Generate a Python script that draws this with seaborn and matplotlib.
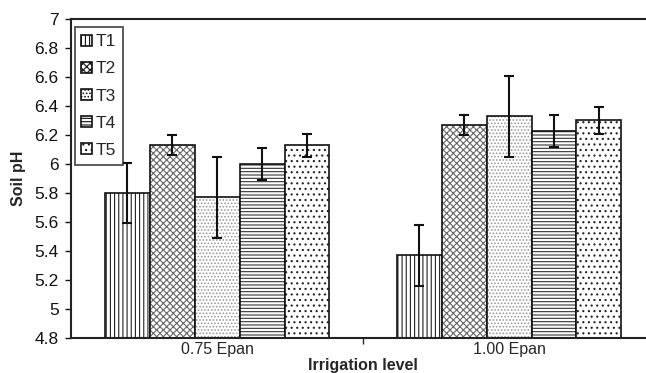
import seaborn as sns
import matplotlib.pyplot as plt
import pandas as pd
from matplotlib.ticker import FixedLocator, FormatStrFormatter

levels = ['0.75 Epan', '1.00 Epan']
treatments = ['T1', 'T2', 'T3', 'T4', 'T5']
ph_075 = [5.80, 6.13, 5.77, 6.00, 6.13]
ph_100 = [5.37, 6.27, 6.33, 6.23, 6.30]
err_075 = [0.21, 0.07, 0.28, 0.11, 0.08]
err_100 = [0.21, 0.07, 0.28, 0.11, 0.09]

df = pd.DataFrame({
    'level': [levels[0]] * 5 + [levels[1]] * 5,
    'trt': treatments * 2,
    'ph': ph_075 + ph_100,
})
errs = {t: [err_075[i], err_100[i]] for i, t in enumerate(treatments)}

sns.set_style('white')
plt.rcParams['font.family'] = ['Liberation Sans', 'DejaVu Sans']
plt.rcParams['hatch.linewidth'] = 0.8

fig = plt.figure(figsize=(6.46, 3.73), dpi=100)
ax = fig.add_axes([0.110, 0.094, 0.904, 0.855])

sns.barplot(data=df, x='level', y='ph', hue='trt', hue_order=treatments,
            order=levels, width=0.77, color='white', edgecolor='#111111',
            linewidth=1.2, errorbar=None, ax=ax, saturation=1)

# wavy pattern of T2 approximated by a dense grey cross hatch
hatches = ['||||', 'xxxxx', '.....', '-----', '...']
hatch_cols = ['#222222', '#666666', '#999999', '#333333', '#222222']
for cont, h, hc, t in zip(ax.containers, hatches, hatch_cols, treatments):
    xs, ys = [], []
    for bar in cont:
        bar.set_facecolor('white')
        bar.set_hatch(h)
        bar._hatch_color = plt.matplotlib.colors.to_rgba(hc)
        xs.append(bar.get_x() + bar.get_width() / 2)
        ys.append(bar.get_height())
    ax.errorbar(xs, ys, yerr=errs[t], fmt='none', ecolor='#111111',
                elinewidth=1.5, capsize=3.5, capthick=1.5, zorder=5)

ax.set_ylim(4.8, 7)
ax.set_xlim(-0.5, 1.5)
ax.yaxis.set_major_locator(FixedLocator([4.8 + 0.2 * i for i in range(12)]))
ax.yaxis.set_major_formatter(FormatStrFormatter('%g'))
ax.tick_params(axis='y', left=True, length=4, width=1, labelsize=12.5,
               pad=5, colors='#111111')
ax.tick_params(axis='x', bottom=False, length=0, labelsize=11.5, pad=3)
ax.xaxis.set_minor_locator(FixedLocator([0.5]))
ax.tick_params(axis='x', which='minor', bottom=True, length=4, width=1)

for s in ['left', 'bottom', 'top']:
    ax.spines[s].set_color('#222222')
    ax.spines[s].set_linewidth(1.5)
ax.spines['right'].set_visible(False)

ax.set_ylabel('Soil pH', fontsize=11.5, fontweight='bold', labelpad=6)
ax.set_xlabel('Irrigation level', fontsize=11.5, fontweight='bold')
ax.xaxis.set_label_coords(0.5, -0.062)

leg = ax.legend(loc='upper left', bbox_to_anchor=(0.0, 0.985), frameon=True,
                fancybox=False, edgecolor='#111111', fontsize=12.5,
                handlelength=0.6, handleheight=0.6, handletextpad=0.2,
                labelspacing=0.7, borderpad=0.4, borderaxespad=0.2)
leg.get_frame().set_linewidth(1.2)
for hnd, h in zip(leg.legend_handles, hatches):
    hnd.set_hatch(h)
    hnd.set_facecolor('white')
    hnd.set_edgecolor('#111111')

fig.savefig('out.png', dpi=100)
